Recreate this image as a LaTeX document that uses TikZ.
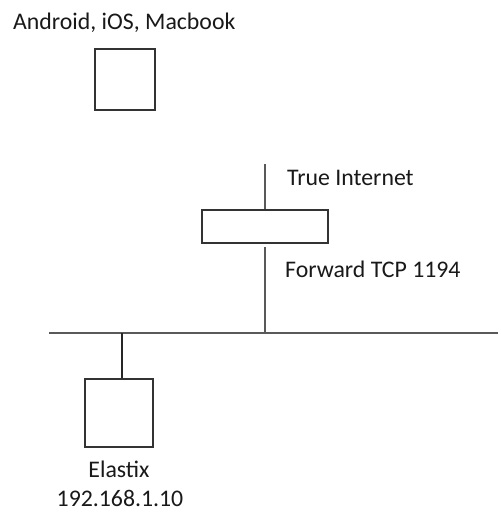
\documentclass[tikz,border=0pt]{standalone}
\usepackage{fontspec}
\setmainfont{Carlito}
\begin{document}
\begin{tikzpicture}[x=1pt,y=-1pt,
  lbl/.style={inner sep=0pt,font=\fontsize{23.8}{28}\selectfont,text=black!90},
  dev/.style={draw=black!80,line width=1.2pt,inner sep=0pt,fill=white},
  wire/.style={draw=black!65,line width=1.3pt}]
\useasboundingbox[fill=white] (0,0) rectangle (500,526);
% top device
\node[lbl,anchor=base west] (tl) at (13,30) {Android, iOS, Macbook};
\node[dev,minimum width=60pt,minimum height=61pt] (pc) at (125,79.5) {};
% router
\node[dev,minimum width=126pt,minimum height=33pt] (rt) at (265,226.5) {};
\coordinate (inet) at (265,164);
\coordinate (rtb) at (265,247);
\coordinate (lanr) at (265,333);
\draw[wire] (inet) -- (rt.north);
\draw[wire] (rtb) -- (lanr);
\node[lbl,anchor=base west] (ti) at (287,186) {True Internet};
\node[lbl,anchor=base west] (fw) at (285,277) {Forward TCP 1194};
% LAN bus
\coordinate (busl) at (49,333);
\coordinate (busr) at (498,333);
\draw[wire] (busl) -- (busr);
% server
\node[dev,minimum width=68pt,minimum height=68pt] (srv) at (119,413) {};
\coordinate (tap) at (122,333);
\draw[line width=1.2pt,black!85] (tap) -- (tap|-srv.north);
\node[lbl,anchor=base] (el) at (119,477) {Elastix};
\node[lbl,anchor=base] (ip) at (120,506) {192.168.1.10};
\end{tikzpicture}
\end{document}
